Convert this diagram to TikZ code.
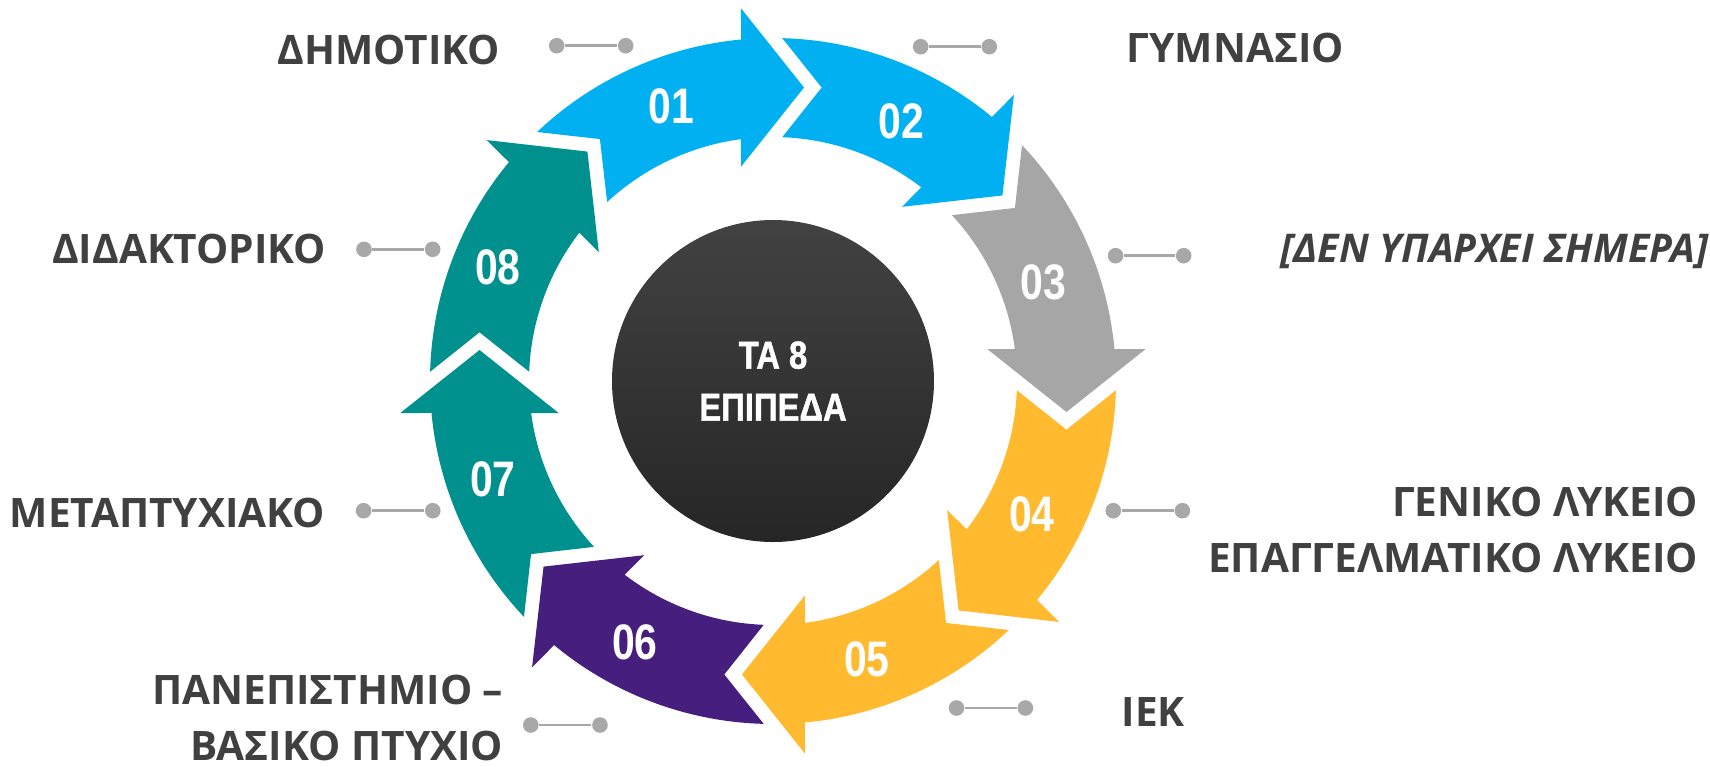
\documentclass[tikz,border=0pt]{standalone}
\usepackage{fontspec}
\usepackage{tikz}
\usetikzlibrary{arrows,shapes,calc}
\setmainfont{Open Sans}
\newfontfamily\narrowfont[FakeStretch=0.82]{Liberation Sans}
\newfontfamily\hubfont[FakeStretch=0.84,FakeBold=1.2]{Liberation Sans Bold}
\definecolor{cBlue}{HTML}{00B0F0}
\definecolor{cGray}{HTML}{A6A6A6}
\definecolor{cGold}{HTML}{FFBA30}
\definecolor{cPurple}{HTML}{461E7D}
\definecolor{cTeal}{HTML}{00918F}
\definecolor{cText}{HTML}{404040}
\definecolor{cDot}{HTML}{A8A8A8}
\definecolor{hubTop}{HTML}{424242}
\definecolor{hubBot}{HTML}{262626}

\begin{document}
\begin{tikzpicture}[x=0.1mm,y=0.1mm,
    lbl/.style={font=\bfseries\fontsize{11.55}{16.1}\selectfont, text=cText, inner sep=0pt},
    num/.style={font=\narrowfont\bfseries\fontsize{14.2}{17}\selectfont, text=white, inner sep=0pt},
    dot/.style={circle, fill=cDot, inner sep=0pt, minimum size=1.56mm},
    dotline/.style={draw=cDot, line width=0.8pt}]
    \useasboundingbox (-773,-385) rectangle (937,381);

    \fill[cBlue] (133.45:343) arc[start angle=133.45, end angle=95.35, radius=343] -- (94.91:374.1) -- (83.97:295.1) -- (98.49:216.7) -- (97.54:244) arc[start angle=97.54, end angle=132.82, radius=244] -- (125.58:297.5) -- cycle;
    \fill[cBlue] (88.45:343) arc[start angle=88.45, end angle=50.35, radius=343] -- (49.91:374.1) -- (38.97:295.1) -- (53.49:216.7) -- (52.54:244) arc[start angle=52.54, end angle=87.82, radius=244] -- (80.58:297.5) -- cycle;
    \fill[cGray] (43.45:343) arc[start angle=43.45, end angle=5.35, radius=343] -- (4.91:374.1) -- (-6.03:295.1) -- (8.49:216.7) -- (7.54:244) arc[start angle=7.54, end angle=42.82, radius=244] -- (35.58:297.5) -- cycle;
    \fill[cGold] (-1.55:343) arc[start angle=-1.55, end angle=-39.65, radius=343] -- (-40.09:374.1) -- (-51.03:295.1) -- (-36.51:216.7) -- (-37.46:244) arc[start angle=-37.46, end angle=-2.18, radius=244] -- (-9.42:297.5) -- cycle;
    \fill[cGold] (-46.55:343) arc[start angle=-46.55, end angle=-84.65, radius=343] -- (-85.09:374.1) -- (-96.03:295.1) -- (-81.51:216.7) -- (-82.46:244) arc[start angle=-82.46, end angle=-47.18, radius=244] -- (-54.42:297.5) -- cycle;
    \fill[cPurple] (-91.55:343) arc[start angle=-91.55, end angle=-129.65, radius=343] -- (-130.09:374.1) -- (-141.03:295.1) -- (-126.51:216.7) -- (-127.46:244) arc[start angle=-127.46, end angle=-92.18, radius=244] -- (-99.42:297.5) -- cycle;
    \fill[cTeal] (-136.55:343) arc[start angle=-136.55, end angle=-174.65, radius=343] -- (-175.09:374.1) -- (-186.03:295.1) -- (-171.51:216.7) -- (-172.46:244) arc[start angle=-172.46, end angle=-137.18, radius=244] -- (-144.42:297.5) -- cycle;
    \fill[cTeal] (178.45:343) arc[start angle=178.45, end angle=140.35, radius=343] -- (139.91:374.1) -- (128.97:295.1) -- (143.49:216.7) -- (142.54:244) arc[start angle=142.54, end angle=177.82, radius=244] -- (170.58:297.5) -- cycle;

    \node[circle, minimum size=32.2mm, top color=hubTop, bottom color=hubBot, text=white, align=center,
          font=\hubfont\fontsize{11.1}{14.8}\selectfont] (hub) at (0,0) {ΤΑ 8\\ΕΠΙΠΕΔΑ};

    \node[num] (n01) at (-101.5,275) {01};
    \node[num] (n02) at (128.7,259.5) {02};
    \node[num] (n03) at (270.3,98.5) {03};
    \node[num] (n04) at (259,-133) {04};
    \node[num] (n05) at (94,-278) {05};
    \node[num] (n06) at (-138,-261.5) {06};
    \node[num] (n07) at (-280,-98) {07};
    \node[num] (n08) at (-275,113.5) {08};

    \node[dot] (d01a) at (-216.3,335.3) {};
    \node[dot] (d01b) at (-147.3,335.3) {};
    \node[dot] (d02a) at (147.7,334.3) {};
    \node[dot] (d02b) at (216.3,334.3) {};
    \node[dot] (d03a) at (342.6,125.3) {};
    \node[dot] (d03b) at (410.7,125.3) {};
    \node[dot] (d04a) at (340.3,-129.7) {};
    \node[dot] (d04b) at (409.4,-129.7) {};
    \node[dot] (d05a) at (183.5,-327) {};
    \node[dot] (d05b) at (252.4,-327) {};
    \node[dot] (d06a) at (-242.2,-344) {};
    \node[dot] (d06b) at (-173,-344) {};
    \node[dot] (d07a) at (-409.4,-129.7) {};
    \node[dot] (d07b) at (-340.2,-129.7) {};
    \node[dot] (d08a) at (-409,131.7) {};
    \node[dot] (d08b) at (-340.3,131.7) {};
    \draw[dotline] (d01a) -- (d01b);
    \draw[dotline] (d02a) -- (d02b);
    \draw[dotline] (d03a) -- (d03b);
    \draw[dotline] (d04a) -- (d04b);
    \draw[dotline] (d05a) -- (d05b);
    \draw[dotline] (d06a) -- (d06b);
    \draw[dotline] (d07a) -- (d07b);
    \draw[dotline] (d08a) -- (d08b);

    \node[lbl, anchor=east] (l01) at (-272.3,331.5) {ΔΗΜΟΤΙΚΟ};
    \node[lbl, anchor=west] (l02) at (353,333.5) {ΓΥΜΝΑΣΙΟ};
    \node[lbl, anchor=west, font=\bfseries\itshape\fontsize{11.25}{15}\selectfont] (l03) at (507,129.5) {[ΔΕΝ ΥΠΑΡΧΕΙ ΣΗΜΕΡΑ]};
    \node[lbl, anchor=east, align=right] (l04) at (925.5,-149) {ΓΕΝΙΚΟ ΛΥΚΕΙΟ\\ΕΠΑΓΓΕΛΜΑΤΙΚΟ ΛΥΚΕΙΟ};
    \node[lbl, anchor=west] (l05) at (348,-331) {ΙΕΚ};
    \node[lbl, anchor=east, align=right] (l06) at (-269,-337) {ΠΑΝΕΠΙΣΤΗΜΙΟ –\\ΒΑΣΙΚΟ ΠΤΥΧΙΟ};
    \node[lbl, anchor=east] (l07) at (-447,-131.5) {ΜΕΤΑΠΤΥΧΙΑΚΟ};
    \node[lbl, anchor=east] (l08) at (-446.3,132.3) {ΔΙΔΑΚΤΟΡΙΚΟ};
\end{tikzpicture}
\end{document}
